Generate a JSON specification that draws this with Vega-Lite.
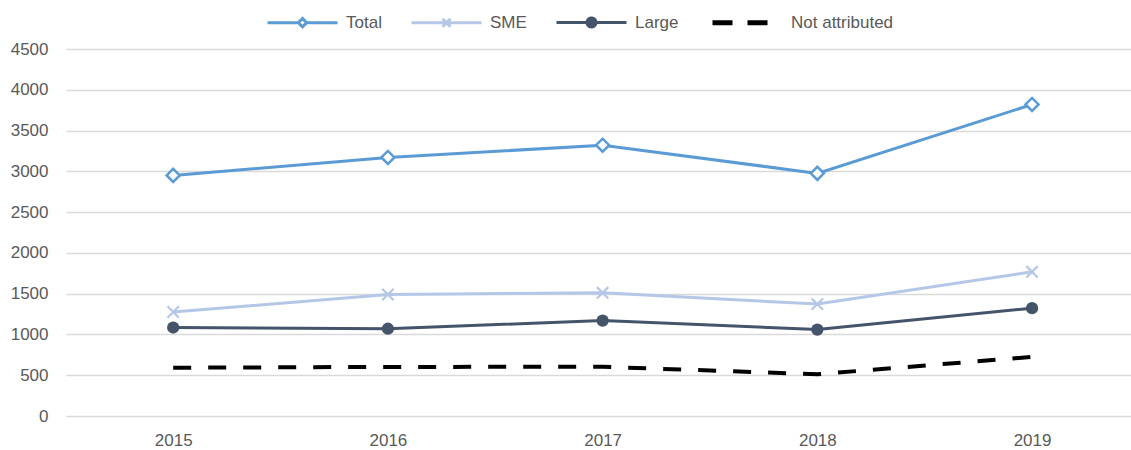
{
  "$schema": "https://vega.github.io/schema/vega-lite/v6.json",
  "autosize": {"type": "none"},
  "width": 1065,
  "height": 367,
  "padding": {"left": 66, "top": 49, "right": 0, "bottom": 34},
  "background": "white",
  "config": {
    "view": {"stroke": null},
    "font": "Liberation Sans"
  },
  "data": {
    "values": [
      {"year": "2015", "series": "Total", "value": 2950},
      {"year": "2016", "series": "Total", "value": 3170},
      {"year": "2017", "series": "Total", "value": 3320},
      {"year": "2018", "series": "Total", "value": 2975},
      {"year": "2019", "series": "Total", "value": 3820},
      {"year": "2015", "series": "SME", "value": 1275},
      {"year": "2016", "series": "SME", "value": 1490},
      {"year": "2017", "series": "SME", "value": 1510},
      {"year": "2018", "series": "SME", "value": 1372},
      {"year": "2019", "series": "SME", "value": 1768},
      {"year": "2015", "series": "Large", "value": 1085},
      {"year": "2016", "series": "Large", "value": 1070},
      {"year": "2017", "series": "Large", "value": 1170},
      {"year": "2018", "series": "Large", "value": 1060},
      {"year": "2019", "series": "Large", "value": 1322},
      {"year": "2015", "series": "Not attributed", "value": 592},
      {"year": "2016", "series": "Not attributed", "value": 602},
      {"year": "2017", "series": "Not attributed", "value": 603},
      {"year": "2018", "series": "Not attributed", "value": 512},
      {"year": "2019", "series": "Not attributed", "value": 725}
    ]
  },
  "encoding": {
    "x": {
      "field": "year",
      "type": "ordinal",
      "scale": {"type": "point", "padding": 0.48, "align": 0.52},
      "axis": {
        "title": null,
        "domain": false,
        "ticks": false,
        "labelAngle": 0,
        "labelFont": "Liberation Sans",
        "labelFontSize": 17,
        "labelColor": "#595959",
        "labelPadding": 16,
        "grid": false
      }
    },
    "y": {
      "field": "value",
      "type": "quantitative",
      "scale": {"domain": [0, 4500], "nice": false},
      "axis": {
        "title": null,
        "domain": false,
        "ticks": false,
        "format": "d",
        "values": [0, 500, 1000, 1500, 2000, 2500, 3000, 3500, 4000, 4500],
        "labelFont": "Liberation Sans",
        "labelFontSize": 17,
        "labelColor": "#595959",
        "labelPadding": 18,
        "gridColor": "#D9D9D9",
        "gridWidth": 1.6
      }
    }
  },
  "layer": [
    {
      "transform": [{"filter": "datum.series !== 'Not attributed'"}],
      "mark": {"type": "line", "strokeWidth": 3},
      "encoding": {
        "color": {
          "field": "series",
          "type": "nominal",
          "scale": {
            "domain": ["Total", "SME", "Large", "Not attributed"],
            "range": ["#5B9BD5", "#B4C7E7", "#44546A", "#000000"]
          },
          "legend": {
            "title": null,
            "orient": "none",
            "direction": "horizontal",
            "legendX": 203,
            "legendY": -35,
            "padding": 0,
            "symbolSize": 400,
            "symbolStrokeWidth": 3,
            "labelFont": "Liberation Sans",
            "labelFontSize": 17,
            "labelColor": "#595959",
            "labelOffset": 60,
            "columnPadding": 23,
            "encode": {
              "symbols": {
                "update": {
                  "shape": {"signal": "datum.value === 'Total' ? 'M-1,0L2.1,0M2.9,0L6,0M2.5,-0.42L2.92,0L2.5,0.42L2.08,0Z' : datum.value === 'SME' ? 'M-1,0L6,0M2.1,-0.4L2.9,0.4M2.1,0.4L2.9,-0.4' : datum.value === 'Large' ? 'M-1,0L6,0M2.05,0A0.45,0.45,0,1,0,2.95,0A0.45,0.45,0,1,0,2.05,0Z' : 'M-1,0L6,0'"},
                  "fill": {"signal": "datum.value === 'Total' ? '#ffffff' : datum.value === 'Large' ? '#44546A' : 'transparent'"},
                  "stroke": {"signal": "datum.value === 'Total' ? '#5B9BD5' : datum.value === 'SME' ? '#B4C7E7' : datum.value === 'Large' ? '#44546A' : '#000000'"},
                  "strokeWidth": {"signal": "datum.value === 'Not attributed' ? 5 : 3"},
                  "strokeCap": {"value": "butt"},
                  "strokeDash": {"signal": "datum.value === 'Not attributed' ? [20, 15] : [1, 0]"},
                  "opacity": {"value": 1}
                }
              }
            }
          }
        }
      }
    },
    {
      "transform": [{"filter": "datum.series === 'Not attributed'"}],
      "mark": {"type": "line", "strokeWidth": 4, "strokeDash": [18, 17], "color": "#000000"},
      "encoding": {}
    },
    {
      "transform": [{"filter": "datum.series === 'Total'"}],
      "mark": {"type": "point", "shape": "diamond", "filled": true, "fill": "#ffffff", "stroke": "#5B9BD5", "strokeWidth": 2.5, "size": 170, "opacity": 1},
      "encoding": {}
    },
    {
      "transform": [{"filter": "datum.series === 'SME'"}],
      "mark": {"type": "point", "shape": "M-1,-1L1,1M-1,1L1,-1", "filled": false, "stroke": "#B4C7E7", "strokeWidth": 2.2, "size": 130, "opacity": 1},
      "encoding": {}
    },
    {
      "transform": [{"filter": "datum.series === 'Large'"}],
      "mark": {"type": "point", "shape": "circle", "filled": true, "fill": "#44546A", "size": 150, "opacity": 1},
      "encoding": {}
    }
  ]
}
